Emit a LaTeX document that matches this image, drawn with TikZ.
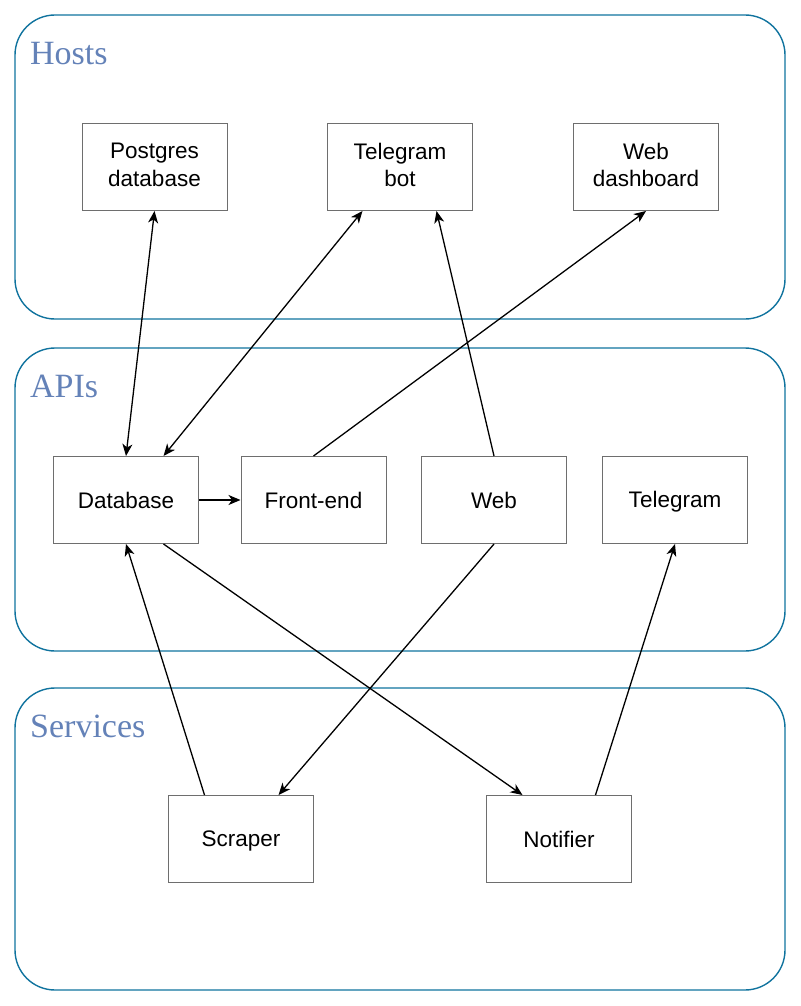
\documentclass[tikz,border=0pt]{standalone}
\usepackage{fontspec}
\setmainfont{Liberation Serif}
\newfontfamily\boxfont{Liberation Sans}
\usetikzlibrary{arrows.meta,calc}
\definecolor{contborder}{HTML}{10739E}
\definecolor{titleblue}{HTML}{6482B8}
\definecolor{boxborder}{HTML}{6E6E6E}
\newcommand\boxstrut{\rule[-4pt]{0pt}{24pt}}
\tikzset{
  container/.style={draw=contborder, line width=1.4pt, rounded corners=40pt},
  grouptitle/.style={anchor=base west, inner sep=0pt, text=titleblue, font=\fontsize{34}{40}\selectfont},
  comp/.style={draw=boxborder, line width=1pt, minimum width=145pt, minimum height=87pt, inner sep=0pt,
    align=center, font=\boxfont\fontsize{22.5}{27.6}\selectfont,
    execute at begin node=\boxstrut, execute at end node=\boxstrut},
  conn/.style={line width=1.3pt, -{Stealth[length=12pt,width=10pt,inset=3.5pt]}},
  biconn/.style={line width=1.3pt, {Stealth[length=12pt,width=10pt,inset=3.5pt]}-{Stealth[length=12pt,width=10pt,inset=3.5pt]}},
}
\begin{document}
\begin{tikzpicture}[x=1pt,y=-1pt]
\useasboundingbox (0,0) rectangle (800,1006);
% containers
\draw[container] (15,15) rectangle (785,319);
\draw[container] (15,348) rectangle (785,651);
\draw[container] (15,688) rectangle (785,990);
\node[grouptitle] (thosts) at (30,65) {Hosts};
\node[grouptitle] (tapis) at (30,397) {APIs};
\node[grouptitle] (tserv) at (30,737) {Services};
% hosts
\node[comp] (pg) at (154.5,167) {Postgres\\database};
\node[comp] (tb) at (400,167) {Telegram\\bot};
\node[comp] (wd) at (646,167) {Web\\dashboard};
% apis
\node[comp] (db) at (126,500) {Database};
\node[comp] (fe) at (313.5,500) {Front-end};
\node[comp] (web) at (494,500) {Web};
\node[comp] (tg) at (675,500) {Telegram};
% services
\node[comp] (sc) at (241,839) {Scraper};
\node[comp] (nt) at (559,839) {Notifier};
% connectors
\draw[biconn] (pg.south) -- (db.north);
\draw[biconn] ($(tb.south west)!0.243!(tb.south east)$) -- ($(db.north west)!0.757!(db.north east)$);
\draw[conn] (fe.north) -- (wd.south);
\draw[conn] (web.north) -- ($(tb.south west)!0.75!(tb.south east)$);
\draw[conn] (db.east) -- (fe.west);
\draw[conn] ($(db.south west)!0.757!(db.south east)$) -- ($(nt.north west)!0.25!(nt.north east)$);
\draw[conn] (web.south) -- ($(sc.north west)!0.757!(sc.north east)$);
\draw[conn] ($(sc.north west)!0.25!(sc.north east)$) -- (db.south);
\draw[conn] ($(nt.north west)!0.75!(nt.north east)$) -- (tg.south);
\end{tikzpicture}
\end{document}
